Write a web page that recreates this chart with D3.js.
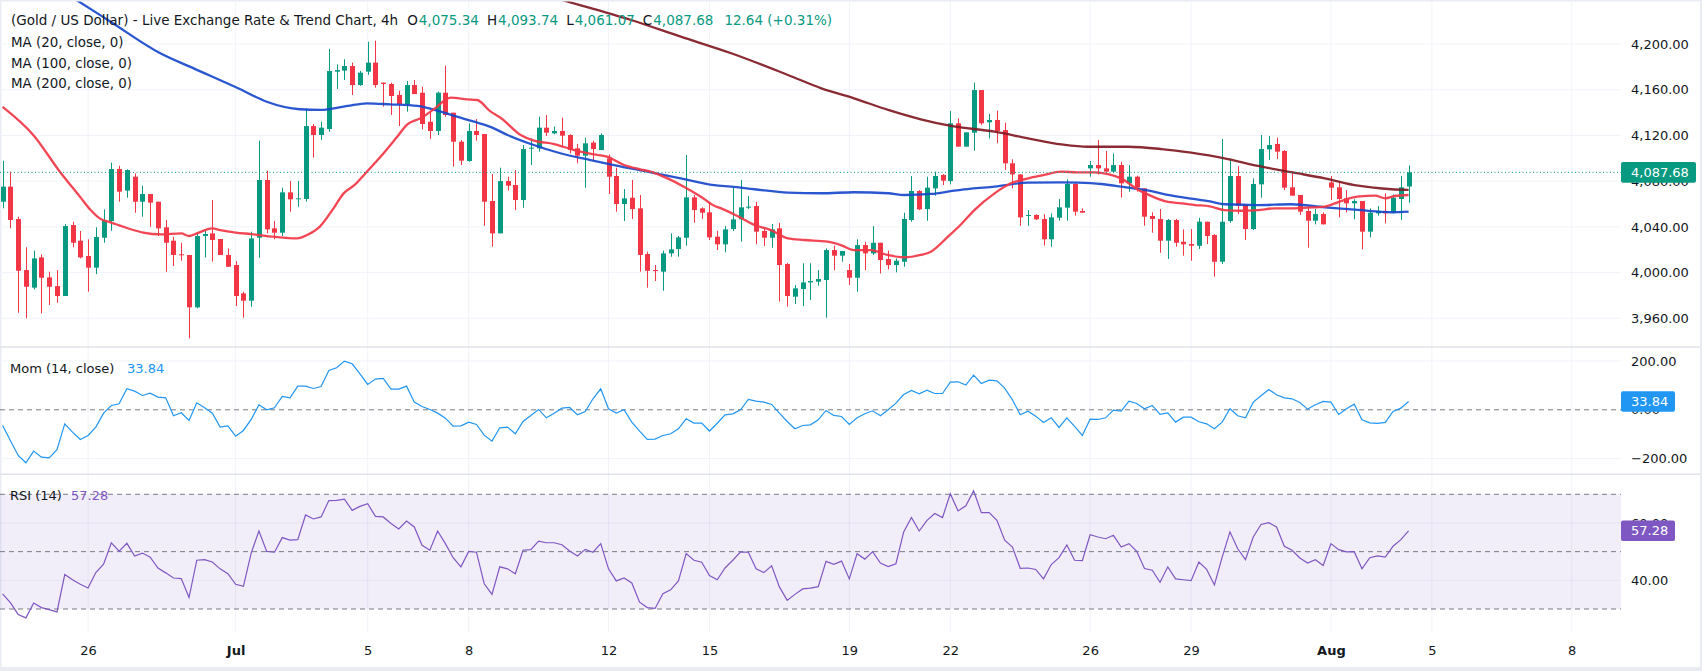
<!DOCTYPE html>
<html><head><meta charset="utf-8">
<script src="https://cdn.jsdelivr.net/npm/d3@7"></script>
<style>
html,body{margin:0;padding:0;background:#fff;}
svg{display:block;font-family:"DejaVu Sans",sans-serif;}
</style></head><body>
<svg id="c" width="1702" height="671"></svg>
<script>
// ---- DATA ----
const openP=[4062.0,4075.2,4046.9,4002.2,3986.8,4013.3,3995.8,3988.2,3979.5,4041.6,4027.9,4014.5,4004.3,4030.5,4045.1,4090.6,4071.7,4083.9,4062.0,4068.7,4062.0,4039.6,4027.9,4016.0,4015.4,3969.6,4032.0,4034.3,4029.4,4015.4,4006.6,3981.8,3975.4,4030.5,4081.0,4038.7,4034.9,4070.2,4064.1,4064.4,4128.2,4120.4,4125.6,4175.8,4176.7,4180.7,4164.1,4175.8,4183.7,4166.2,4165.0,4155.4,4147.5,4164.1,4157.4,4132.0,4123.9,4157.4,4139.9,4114.5,4097.6,4123.9,4121.2,4062.6,4034.3,4080.1,4076.6,4063.5,4108.4,4108.7,4126.8,4121.8,4123.9,4120.4,4108.7,4102.3,4113.7,4107.2,4099.9,4084.5,4060.0,4065.5,4056.2,4016.2,4002.2,4000.8,4016.8,4020.6,4030.5,4065.8,4056.2,4052.7,4031.4,4024.7,4038.1,4046.6,4056.8,4058.2,4036.4,4030.5,4038.7,4007.5,3978.9,3985.6,3991.4,3992.0,3993.5,4019.7,4014.8,4002.2,3995.5,4024.1,4016.8,4026.1,4011.9,4006.6,4009.5,4046.0,4071.4,4055.6,4073.7,4085.4,4080.1,4130.6,4110.2,4122.4,4159.7,4131.5,4133.5,4124.7,4095.6,4085.9,4049.5,4050.4,4046.9,4029.1,4048.0,4056.8,4077.5,4053.9,4091.2,4094.1,4091.2,4088.3,4094.1,4078.1,4083.9,4073.7,4049.5,4046.9,4027.9,4046.0,4027.0,4025.0,4023.5,4044.5,4032.9,4009.5,4045.1,4084.5,4059.1,4038.1,4077.2,4107.8,4112.5,4106.4,4074.6,4067.9,4053.9,4045.4,4051.2,4078.9,4074.6,4064.9,4060.6,4062.6,4035.8,4051.8,4053.9,4052.4,4064.4,4075.34];
const highP=[4097.9,4088.3,4048.9,4022.1,4019.2,4015.9,4000.8,4002.2,4042.5,4044.5,4036.4,4029.1,4039.6,4055.3,4096.2,4093.5,4090.3,4086.8,4076.0,4068.7,4062.0,4046.0,4031.4,4026.1,4015.4,4034.3,4036.4,4063.5,4029.4,4021.2,4010.1,3983.3,4035.8,4115.4,4089.2,4045.1,4074.3,4080.1,4080.1,4143.7,4130.0,4132.0,4195.6,4182.2,4186.6,4183.7,4176.4,4202.0,4202.9,4166.2,4166.2,4159.2,4167.6,4168.5,4162.7,4140.8,4158.3,4181.0,4139.9,4116.0,4130.6,4134.4,4121.2,4086.2,4091.8,4083.9,4089.7,4111.6,4117.4,4136.4,4137.9,4127.7,4135.5,4121.0,4112.5,4118.0,4115.4,4121.8,4103.4,4091.8,4073.1,4081.0,4067.9,4018.3,4006.6,4019.2,4034.3,4032.0,4102.9,4067.9,4057.1,4061.4,4036.6,4040.7,4074.3,4081.0,4067.0,4062.0,4038.7,4042.5,4043.6,4008.6,3989.1,4008.1,4008.1,4002.2,4021.2,4023.5,4018.9,4007.5,4029.1,4027.0,4040.7,4026.1,4019.2,4012.4,4052.4,4084.5,4072.2,4083.9,4088.3,4086.2,4141.4,4135.0,4122.7,4166.2,4159.7,4138.7,4141.7,4131.2,4099.1,4085.9,4054.7,4051.0,4051.0,4051.8,4064.4,4081.6,4078.7,4056.2,4097.6,4116.0,4106.4,4104.3,4097.0,4094.1,4084.8,4073.7,4052.7,4055.6,4046.9,4046.9,4037.8,4038.1,4048.0,4044.5,4033.7,4116.9,4099.9,4093.2,4059.1,4082.4,4120.4,4119.5,4118.0,4107.2,4088.3,4067.9,4057.7,4055.6,4052.7,4084.5,4079.5,4072.2,4064.1,4062.6,4056.2,4058.2,4069.3,4068.4,4084.5,4093.74];
const lowP=[4056.2,4038.7,3964.9,3960.0,3985.3,3964.3,3971.6,3973.6,3979.5,4022.1,4012.4,3983.3,3998.7,4026.1,4036.6,4062.0,4065.5,4052.4,4048.9,4040.1,4032.0,4000.8,4005.7,4010.4,3942.4,3968.7,4013.3,4009.5,4015.4,4005.1,3970.7,3960.5,3970.1,4013.0,4034.3,4029.1,4032.0,4053.3,4057.6,4062.0,4100.5,4116.0,4123.3,4160.6,4168.5,4155.4,4163.5,4172.9,4161.8,4145.2,4137.9,4128.2,4140.8,4156.2,4125.3,4116.9,4120.4,4136.4,4092.7,4094.1,4097.0,4115.4,4041.0,4022.6,4034.3,4071.7,4054.7,4056.8,4094.1,4105.8,4119.5,4121.0,4110.2,4104.3,4095.6,4074.3,4097.6,4107.2,4068.7,4053.3,4045.1,4046.9,4000.8,3986.8,3992.6,3984.1,4013.9,4013.9,4023.5,4043.6,4046.9,4028.5,4019.7,4017.7,4036.4,4027.0,4055.6,4024.7,4023.2,4021.8,3974.5,3970.1,3972.5,3970.7,3976.0,3988.5,3960.5,4002.2,4009.5,3989.1,3983.3,4002.2,4015.4,3999.3,4002.8,4000.2,4005.1,4044.5,4054.7,4045.4,4067.3,4076.6,4077.2,4110.2,4110.2,4106.7,4129.1,4117.4,4113.1,4089.7,4073.7,4041.0,4041.0,4046.0,4023.5,4022.6,4045.4,4045.4,4049.8,4052.4,4083.9,4085.9,4088.3,4087.7,4065.5,4070.8,4070.8,4041.0,4034.9,4017.4,4011.9,4022.6,4014.8,4010.4,4020.6,4025.0,3996.4,4007.5,4043.6,4051.2,4028.5,4037.2,4065.5,4098.5,4099.4,4072.2,4067.3,4050.4,4021.8,4042.2,4042.2,4063.5,4048.3,4052.7,4046.6,4020.3,4030.8,4049.8,4043.1,4051.8,4046.0,4061.07];
const closeP=[4075.2,4046.0,4001.6,3987.6,4012.4,3995.5,3987.6,3979.5,4040.7,4026.1,4013.3,4004.3,4031.1,4046.0,4090.6,4070.8,4089.7,4062.0,4068.7,4061.2,4038.7,4026.1,4015.4,4015.4,3969.6,4032.0,4033.7,4028.5,4015.4,4005.1,3979.5,3975.4,4029.9,4081.0,4037.8,4034.9,4070.2,4064.1,4065.0,4128.2,4120.4,4126.8,4176.4,4177.2,4180.7,4164.1,4174.9,4183.7,4164.1,4165.0,4154.5,4147.5,4164.1,4156.2,4130.0,4123.9,4157.4,4137.9,4114.5,4097.9,4123.9,4120.4,4062.0,4034.3,4080.1,4076.0,4063.5,4108.1,4109.3,4126.8,4122.4,4123.9,4119.8,4107.2,4102.3,4113.1,4108.1,4120.4,4083.9,4060.0,4064.9,4055.6,4015.4,4001.6,4001.3,4016.8,4020.3,4030.8,4065.8,4054.7,4052.4,4030.8,4024.7,4037.8,4046.6,4057.1,4057.7,4035.8,4030.5,4037.8,4006.6,3979.5,3986.2,3991.4,3992.6,3994.4,4019.7,4014.8,4018.9,3995.5,4024.1,4016.8,4026.1,4011.0,4006.6,4010.4,4046.9,4071.4,4055.3,4074.3,4084.5,4080.4,4130.6,4110.2,4122.7,4159.7,4130.6,4133.5,4123.9,4095.6,4085.9,4048.3,4050.4,4046.6,4029.1,4048.3,4057.1,4077.5,4053.3,4052.4,4094.1,4091.2,4088.3,4094.1,4078.1,4083.9,4074.3,4048.9,4046.9,4027.9,4046.0,4026.1,4024.7,4023.5,4044.5,4032.0,4009.5,4044.5,4084.5,4058.5,4038.1,4077.5,4108.1,4111.6,4105.8,4074.3,4067.3,4053.3,4045.4,4051.2,4042.2,4074.3,4064.4,4060.6,4062.6,4035.8,4052.4,4053.9,4051.8,4065.5,4074.6,4087.68];

// moving averages: [candle index, value] vertices
const ma20=[[0,4145],[4,4120],[7.4,4088],[10,4066],[11.3,4055],[12.6,4047],[13.9,4044],[16,4039],[18.1,4035],[20.3,4033.4],[23,4034.3],[24,4032],[25,4034.3],[27,4038.7],[28,4037.2],[30,4035],[32,4033.7],[34.9,4031.4],[37.9,4030],[39.2,4032.9],[40.9,4040.7],[42.6,4056.2],[43.9,4069.3],[45.2,4076],[46.9,4088.3],[49.1,4104.9],[50.8,4118.9],[52.1,4129.7],[53.8,4135],[55.5,4142.8],[57.7,4153],[59.8,4151.6],[61.1,4151],[62.8,4141],[64.1,4135.5],[66.7,4120.4],[68.4,4115.4],[71,4112.5],[73.6,4107.2],[76.1,4103.4],[77.8,4101.4],[80,4094.1],[82.1,4090.3],[83.4,4088.3],[85.6,4082.4],[87.7,4075.2],[89.9,4066.4],[91.6,4058.5],[92.5,4056.2],[94.6,4049.5],[96.8,4041.6],[98.9,4037.2],[101.1,4029.9],[103.2,4028.5],[106.2,4027],[107.9,4024.1],[109.6,4019.7],[111.8,4019.7],[113.9,4015.4],[116.1,4013.3],[118.2,4015.4],[119.5,4018.3],[121.7,4031.4],[123.4,4042.3],[125.1,4054.7],[127.7,4069.3],[129.8,4078.1],[132,4082.4],[134.1,4085.4],[136.2,4088.3],[138.4,4087.7],[140.6,4087.7],[142.3,4086.2],[144,4082.4],[146.1,4072.8],[147.4,4068.4],[149.6,4062.6],[151.7,4060.6],[153.5,4059.1],[155.4,4058],[157.3,4054.7],[159.5,4054.1],[161.6,4054.7],[163.8,4056.2],[165.9,4056.2],[168,4056.8],[170.2,4057.7],[172.3,4062.6],[174.4,4066.4],[176.7,4067.3],[178,4065],[179.2,4067],[181,4067.9]];
const ma100=[[0,4280],[9.5,4238.5],[13.9,4219.5],[20.3,4191.9],[24.6,4178.7],[30.6,4160.4],[34,4149.5],[38.3,4142.9],[40.9,4142.3],[44.4,4145.8],[46.9,4148.1],[49.9,4147.2],[53.4,4145.8],[56.4,4140.8],[58.5,4136.4],[60.7,4132],[62.8,4127.5],[65,4120.4],[68,4112.5],[71.8,4104.4],[75.7,4098.5],[78.7,4094.1],[83,4088.3],[87.3,4082.5],[91.6,4076.6],[93.8,4075.2],[96.8,4072.9],[101.1,4069.9],[105.4,4069.4],[109.6,4070.3],[114,4069.4],[116.1,4067.9],[119.5,4068.8],[122.5,4071.7],[124.7,4073.5],[127.7,4075.2],[132,4078.7],[136.3,4079],[138.4,4078.7],[141.4,4077.5],[144,4075.2],[147,4072.3],[151.3,4066.4],[153,4064.7],[155.6,4062],[157.3,4059.8],[161.6,4059.1],[165.9,4059.8],[170.2,4057.1],[174.5,4054.8],[178.8,4052.8],[181,4053.3]];
const ma200=[[60,4262],[72,4238.5],[80.9,4221],[87.3,4206.4],[93.8,4191.9],[101.1,4172.9],[105.4,4161.2],[109.6,4152.5],[114,4142.3],[118.2,4134.1],[122.1,4128.3],[127.7,4123.3],[132,4117.5],[136.3,4112.2],[139.7,4110.1],[144.9,4110.1],[149.2,4108.1],[153,4104.9],[157.3,4100],[161.6,4093.3],[165.9,4087.8],[170.2,4082.5],[174.5,4076],[178.8,4072.9],[181,4072.3]];

const momentum=[-64.2,-125.7,-187.1,-217.2,-169.4,-194.0,-196.7,-163.9,-57.4,-91.5,-121.6,-105.2,-71.0,-13.7,17.8,24.6,86.1,76.5,58.7,68.3,51.9,49.2,-24.6,-12.3,-43.7,28.7,8.2,-13.7,-71.0,-65.6,-107.9,-84.7,-39.6,20.5,0,8.2,54.6,49.2,97.0,97.0,87.4,95.6,161.2,172.1,199.4,188.5,147.5,103.8,125.7,128.4,84.7,84.7,97.0,31.4,13.7,1.4,-13.7,-34.2,-66.9,-65.6,-50.5,-60.1,-103.8,-128.4,-73.8,-71.0,-98.4,-47.8,-23.2,1.4,-32.8,-13.7,6.8,9.6,-20.5,-6.8,45.1,86.1,4.1,-13.7,0,-50.5,-87.4,-121.6,-120.2,-105.2,-98.4,-77.9,-36.9,-54.6,-54.6,-87,-55,-20.5,-16.4,0,42.3,35.5,31.4,21.9,-13.7,-47.8,-77.9,-64.2,-61.5,-41.0,-2.7,-23.2,-27.3,-60.1,-32.8,-16.4,-4.1,-24.6,0,27.3,62.8,79.2,65.6,80.6,66.9,66.9,113.4,114.7,101.1,142.1,107.9,121.6,118.8,88.8,41.0,-20.5,-5.5,-26.0,-51.9,-32.8,-72.4,-32.8,-68.3,-105.2,-38.2,-39.6,-32.8,-1.4,-5.5,35.5,26.0,4.1,17.8,-19.1,-12.3,-50.5,-30.1,-30.1,-49.2,-57.4,-77.9,-50.5,4.1,-24.6,-32.8,31.4,57.4,83.3,61.5,49.2,45.1,30.1,2.7,20.5,34.2,31.4,-19.1,4.1,23.2,-41.0,-53.3,-56.0,-51.9,-6.8,6.8,33.84];
const rsi=[35.3,32.2,28.1,26.9,32.1,30.5,29.8,29.0,42.0,40.2,38.6,37.3,42.7,45.6,53.1,50.2,52.9,48.5,49.5,48.1,44.3,42.6,40.8,40.6,34.0,47.0,47.2,46.4,44.0,42.3,38.6,37.9,49.5,57.2,50.1,49.8,54.9,54.0,54.2,62.8,61.4,62.1,67.8,67.9,68.3,64.4,65.8,66.7,62.3,62.1,59.8,57.9,60.7,58.6,52.2,50.5,57.2,52.8,47.9,44.7,50.1,49.8,38.8,35.1,44.7,44.0,42.3,50.5,50.7,53.7,53.1,53.1,52.4,50.2,48.5,50.8,49.8,52.8,44.0,39.8,40.8,39.1,32.4,30.5,30.2,35.3,36.7,39.8,49.3,47.0,46.3,41.7,40.2,44.3,47.0,49.9,49.8,44.0,42.7,45.1,37.7,33.0,35.1,37.0,37.3,37.8,46.6,45.6,46.7,40.5,49.3,47.4,50.0,46.0,44.8,45.8,56.9,61.9,57.2,60.9,63.3,61.9,70.2,64.2,66.0,71.2,63.6,63.6,60.9,54.0,51.6,44.2,44.3,43.8,40.5,45.5,47.9,52.3,47.0,46.9,55.9,55.1,54.5,55.7,51.6,52.8,50.1,44.1,43.5,39.3,44.7,40.5,40.2,39.9,46.4,43.8,38.4,48.1,56.9,51.0,47.2,55.1,59.5,60.1,58.6,51.9,50.5,47.8,46.0,47.2,45.2,52.8,50.7,49.9,50.0,44.0,47.9,48.5,48.1,51.9,54.2,57.28];

const timeTickIdx=[11,30,47,60,78,91,109,122,140,153,171,184,202];
const timeTickLabels=["26","Jul","5","8","12","15","19","22","26","29","Aug","5","8"];
const boldLabels=["Jul","Aug"];
const priceTicks=[3960,4000,4040,4080,4120,4160,4200];
const momTicks=[-200,0,200];
const rsiGridTicks=[40,60];
const rsiLevels=[30,50,70];
const lastPrice=4087.68, lastMom=33.84, lastRsi=57.28;
const titleText="(Gold / US Dollar) - Live Exchange Rate & Trend Chart, 4h";
const ohlcLetters=["O","H","L","C"];
const ohlcValues=["4,075.34","4,093.74","4,061.07","4,087.68"];
const changeText="12.64 (+0.31%)";
const maLegends=["MA (20, close, 0)","MA (100, close, 0)","MA (200, close, 0)"];

// ---- LAYOUT ----
const W=1702,H=671,plotR=1621;
const C={up:"#089981",down:"#f23645",ma20:"#f23645",ma100:"#1848cc",ma200:"#801922",mom:"#2196f3",rsi:"#7e57c2",grid:"#f0f3fa",sep:"#e0e3eb",text:"#131722",dash:"#787b86"};
const svg=d3.select("#c");
const x=d3.scaleLinear().domain([0,202]).range([2.6,2.6+202*7.768]);
const yP=d3.scaleLinear().domain([3960,4200]).range([318.3,44]);
const yM=d3.scaleLinear().domain([-200,200]).range([458.6,361.0]);
const yR=d3.scaleLinear().domain([30,70]).range([609,494.3]);

// frame
svg.append("rect").attr("width",W).attr("height",H).attr("fill","#e9ecf2");
svg.append("rect").attr("x",1.5).attr("y",1.5).attr("width",1698.5).attr("height",665.5).attr("fill","#fff");

const defs=svg.append("defs");
defs.append("clipPath").attr("id","pc").append("rect").attr("x",0).attr("y",1.5).attr("width",plotR).attr("height",345);

// vertical grid
svg.append("g").selectAll("line").data(timeTickIdx).join("line")
  .attr("x1",d=>x(d)).attr("x2",d=>x(d)).attr("y1",1.5).attr("y2",632)
  .attr("stroke",C.grid).attr("stroke-width",1);
// horizontal grids
svg.append("g").selectAll("line").data(priceTicks).join("line")
  .attr("x1",0).attr("x2",plotR).attr("y1",d=>yP(d)).attr("y2",d=>yP(d)).attr("stroke",C.grid);
svg.append("g").selectAll("line").data([-200,200]).join("line")
  .attr("x1",0).attr("x2",plotR).attr("y1",d=>yM(d)).attr("y2",d=>yM(d)).attr("stroke",C.grid);
// RSI band
svg.append("rect").attr("x",0).attr("width",plotR).attr("y",yR(70)).attr("height",yR(30)-yR(70)).attr("fill","rgba(126,87,194,0.1)");
svg.append("g").selectAll("line").data(rsiGridTicks).join("line")
  .attr("x1",0).attr("x2",plotR).attr("y1",d=>yR(d)).attr("y2",d=>yR(d)).attr("stroke","rgba(126,87,194,0.08)");
svg.append("g").selectAll("line").data(rsiLevels).join("line")
  .attr("x1",0).attr("x2",plotR).attr("y1",d=>yR(d)).attr("y2",d=>yR(d))
  .attr("stroke",C.dash).attr("stroke-dasharray","5,4");
svg.append("line").attr("x1",0).attr("x2",plotR).attr("y1",yM(0)).attr("y2",yM(0))
  .attr("stroke",C.dash).attr("stroke-dasharray","5,4");

// pane separators
svg.append("g").selectAll("line").data([347,474.3]).join("line")
  .attr("x1",0).attr("x2",1700).attr("y1",d=>d).attr("y2",d=>d).attr("stroke",C.sep).attr("stroke-width",1.5);

// candles
const idx=d3.range(closeP.length);
const cg=svg.append("g").attr("clip-path","url(#pc)");
cg.selectAll("line.w").data(idx).join("line").attr("class","w")
  .attr("x1",i=>Math.round(x(i))+0.5).attr("x2",i=>Math.round(x(i))+0.5)
  .attr("y1",i=>yP(highP[i])).attr("y2",i=>yP(lowP[i]))
  .attr("stroke",i=>closeP[i]>=openP[i]?C.up:C.down).attr("stroke-width",1);
cg.selectAll("rect.b").data(idx).join("rect").attr("class","b")
  .attr("x",i=>Math.round(x(i))-2).attr("width",5)
  .attr("y",i=>yP(Math.max(openP[i],closeP[i])))
  .attr("height",i=>Math.max(1,Math.abs(yP(openP[i])-yP(closeP[i]))))
  .attr("fill",i=>closeP[i]>=openP[i]?C.up:C.down);

// MA lines
const maLine=d3.line().x(d=>x(d[0])).y(d=>yP(d[1])).curve(d3.curveMonotoneX);
[[ma200,C.ma200],[ma100,C.ma100],[ma20,C.ma20]].forEach(([d,c])=>{
  cg.append("path").datum(d).attr("d",maLine).attr("fill","none").attr("stroke",c).attr("stroke-width",2.3).attr("stroke-linejoin","round").attr("opacity",0.92);
});

// last price dotted line
svg.append("line").attr("x1",0).attr("x2",plotR).attr("y1",yP(lastPrice)).attr("y2",yP(lastPrice))
  .attr("stroke",C.up).attr("stroke-dasharray","1,2.5").attr("stroke-width",1);

// momentum & rsi lines
svg.append("path").datum(momentum).attr("d",d3.line().x((d,i)=>x(i)).y(d=>yM(d)))
  .attr("fill","none").attr("stroke",C.mom).attr("stroke-width",1.2);
svg.append("path").datum(rsi).attr("d",d3.line().x((d,i)=>x(i)).y(d=>yR(d)))
  .attr("fill","none").attr("stroke",C.rsi).attr("stroke-width",1.2);

// axes
function styleAxis(g){
  g.select(".domain").remove();
  g.selectAll("text").attr("font-family","DejaVu Sans").attr("font-size",13).attr("fill",C.text);
  g.attr("font-family",null).attr("font-size",null);
}
svg.append("g").attr("transform",`translate(${plotR},0)`)
  .call(d3.axisRight(yP).tickValues(priceTicks).tickFormat(d3.format(",.2f")).tickSize(0).tickPadding(10)).call(styleAxis);
svg.append("g").attr("transform",`translate(${plotR},0)`)
  .call(d3.axisRight(yM).tickValues(momTicks).tickFormat(d3.format(".2f")).tickSize(0).tickPadding(10)).call(styleAxis);
svg.append("g").attr("transform",`translate(${plotR},0)`)
  .call(d3.axisRight(yR).tickValues(rsiGridTicks).tickFormat(d3.format(".2f")).tickSize(0).tickPadding(10)).call(styleAxis);
const xa=svg.append("g").attr("transform","translate(0,632)")
  .call(d3.axisBottom(x).tickValues(timeTickIdx).tickFormat((d,i)=>timeTickLabels[i]).tickSize(0).tickPadding(0)).call(styleAxis);
xa.selectAll("text").attr("y",18).attr("dy","0.35em")
  .attr("font-weight",d=>boldLabels.includes(timeTickLabels[timeTickIdx.indexOf(d)])?"bold":"normal");

// value badges
function badge(y,w,color,label){
  svg.append("rect").attr("x",plotR).attr("y",y-10.3).attr("width",w).attr("height",20.6).attr("rx",2).attr("fill",color);
  svg.append("text").attr("x",plotR+10).attr("y",y).attr("dy","0.35em").attr("font-size",13).attr("fill","#fff").text(label);
}
badge(yP(lastPrice),75,C.up,d3.format(",.2f")(lastPrice));
badge(yM(lastMom),54,C.mom,d3.format(".2f")(lastMom));
badge(yR(lastRsi),54,C.rsi,d3.format(".2f")(lastRsi));

// legends (pieces laid out one after another)
const lg=svg.append("g").attr("font-size",13.5);
let cx=11;
function piece(str,color,gap){
  const t=lg.append("text").attr("x",cx).attr("y",20.5).attr("dy","0.35em").attr("fill",color).text(str);
  cx+=t.node().getComputedTextLength()+gap;
}
piece(titleText,C.text,9);
ohlcLetters.forEach((L,k)=>{ piece(L,C.text,1); piece(ohlcValues[k],C.up,8); });
cx+=3;
piece(changeText,C.up,0);
maLegends.forEach((s,k)=>{
  lg.append("text").attr("x",11).attr("y",[42.5,63,83.5][k]).attr("dy","0.35em").attr("font-size",13.4).attr("fill",C.text).text(s);
});
lg.append("text").attr("x",10).attr("y",368).attr("dy","0.35em").attr("font-size",13).attr("fill",C.text).text("Mom (14, close)");
lg.append("text").attr("x",127).attr("y",368).attr("dy","0.35em").attr("font-size",13).attr("fill",C.mom).text(d3.format(".2f")(lastMom));
lg.append("text").attr("x",10).attr("y",495).attr("dy","0.35em").attr("font-size",13).attr("fill",C.text).text("RSI (14)");
lg.append("text").attr("x",71).attr("y",495).attr("dy","0.35em").attr("font-size",13).attr("fill",C.rsi).text(d3.format(".2f")(lastRsi));
</script>
</body></html>
